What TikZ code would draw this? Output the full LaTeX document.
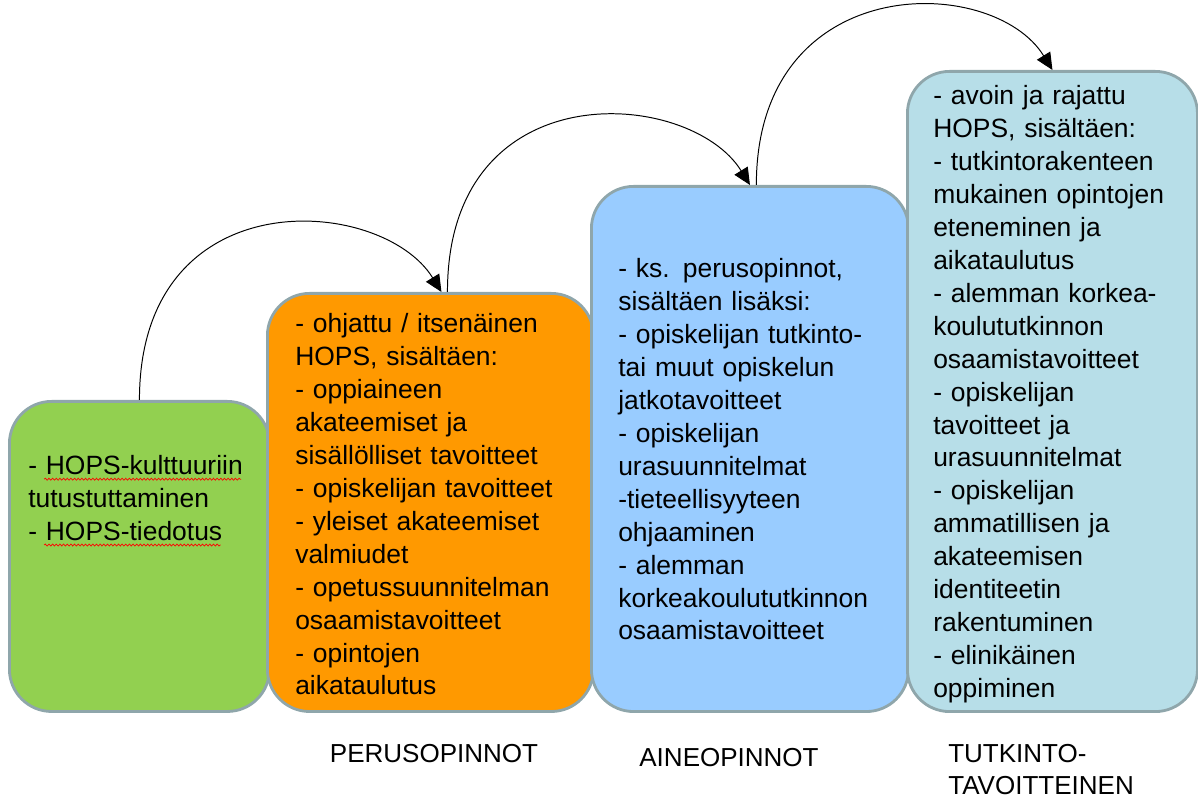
\documentclass[tikz,border=0pt]{standalone}
\usepackage{fontspec}
\setmainfont{Liberation Sans}
\usetikzlibrary{arrows.meta, decorations.pathmorphing}

\definecolor{boxgreen}{HTML}{92D050}
\definecolor{boxorange}{HTML}{FF9900}
\definecolor{boxblue}{HTML}{99CCFF}
\definecolor{boxteal}{HTML}{B7DEE8}
\definecolor{boxedge}{HTML}{8FA6AB}

\begin{document}
\begin{tikzpicture}[x=0.025cm, y=-0.025cm,
  stage/.style={draw=boxedge, line width=2pt, rounded corners=30pt, anchor=north west, inner sep=0pt},
  stagetext/.style={anchor=base west, inner sep=0pt, align=left, text width=9cm, font=\fontsize{18.8}{23.4}\selectfont},
  stagelabel/.style={inner sep=0pt, font=\fontsize{18.5}{23.4}\selectfont},
  spellwave/.style={red, line width=0.5pt, decorate, decoration={snake, segment length=2.6pt, amplitude=0.7pt}},
  hop/.style={line width=0.7pt, -{Triangle[length=12pt,width=11pt]}}]
\useasboundingbox (0,0) rectangle (1198,799);

% Draw the steps
\node[stage, fill=boxgreen, minimum width=6.5cm, minimum height=7.75cm] (green) at (8,400) {};
\node[stage, fill=boxorange, minimum width=8.15cm, minimum height=10.45cm] (orange) at (266,292) {};
\node[stage, fill=boxblue, minimum width=7.925cm, minimum height=13.125cm] (blue) at (590,185) {};
\node[stage, fill=boxteal, minimum width=7.25cm, minimum height=16cm] (teal) at (906,70) {};

% Texts of the steps
\node[stagetext] (greentext) at (28,475) {- HOPS-kulttuuriin\\tutustuttaminen\\- HOPS-tiedotus};
\node[stagetext] (orangetext) at (295,333) {- ohjattu / itsenäinen\\HOPS, sisältäen:\\- oppiaineen\\akateemiset ja\\sisällölliset tavoitteet\\- opiskelijan tavoitteet\\- yleiset akateemiset\\valmiudet\\- opetussuunnitelman\\osaamistavoitteet\\- opintojen\\aikataulutus};
\node[stagetext] (bluetext) at (618,278) {- ks. perusopinnot,\\sisältäen lisäksi:\\- opiskelijan tutkinto-\\tai muut opiskelun\\jatkotavoitteet\\- opiskelijan\\urasuunnitelmat\\-tieteellisyyteen\\ohjaaminen\\- alemman\\korkeakoulututkinnon\\osaamistavoitteet};
\node[stagetext] (tealtext) at (933,105) {- avoin ja rajattu\\HOPS, sisältäen:\\- tutkintorakenteen\\mukainen opintojen\\eteneminen ja\\aikataulutus\\- alemman korkea-\\koulututkinnon\\osaamistavoitteet\\- opiskelijan\\tavoitteet ja\\urasuunnitelmat\\- opiskelijan\\ammatillisen ja\\akateemisen\\identiteetin\\rakentuminen\\- elinikäinen\\oppiminen};

% Spelling marks under the HOPS words
\draw[spellwave] ([xshift=11.5pt, yshift=-3pt]greentext.base west) -- ++(140pt,0);
\draw[spellwave] ([xshift=11.5pt, yshift=-49.8pt]greentext.base west) -- ++(125.4pt,0);

% Labels under the steps
\node[stagelabel, anchor=base] (perus) at (434,762) {PERUSOPINNOT};
\node[stagelabel, anchor=base] (aine) at (729,766) {AINEOPINNOT};
\node[stagelabel, anchor=base west, align=left, text width=6cm] (tutkinto) at (948,762) {TUTKINTO-\\TAVOITTEINEN};

% Arrows from step to step
\draw[hop] (green.north) .. controls +(0,-222) and +(-60,-97) .. ([xshift=0.275cm]orange.north);
\draw[hop] ([xshift=0.425cm]orange.north) .. controls +(0,-222) and +(-60,-97) .. (blue.north);
\draw[hop] ([xshift=0.16cm]blue.north) .. controls +(0,-215) and +(-60,-97) .. (teal.north);
\end{tikzpicture}
\end{document}
